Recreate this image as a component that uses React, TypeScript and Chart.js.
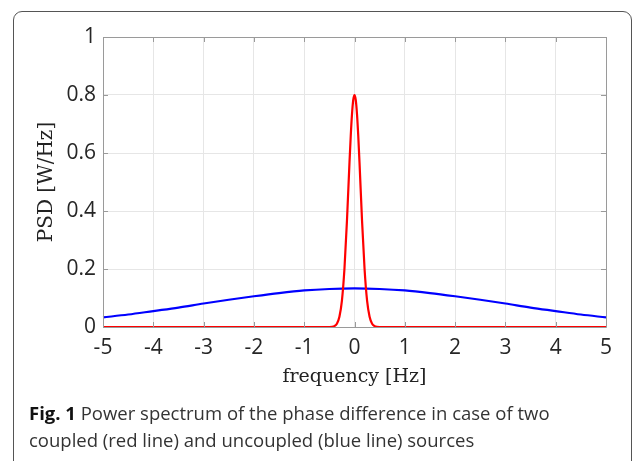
import React, { useEffect, useRef } from "react";
import { Chart, registerables } from "chart.js";

Chart.register(...registerables);

const blueFreq = [-5, -4.5, -4, -3.5, -3, -2.5, -2, -1.5, -1, -0.5, 0, 0.5, 1, 1.5, 2, 2.5, 3, 3.5, 4, 4.5, 5];
const bluePsd = [0.033, 0.043, 0.055, 0.067, 0.081, 0.094, 0.106, 0.117, 0.126, 0.131, 0.133, 0.131, 0.126, 0.117, 0.106, 0.094, 0.081, 0.067, 0.055, 0.043, 0.033];

const redFreq = [-5, -0.5, -0.4, -0.35, -0.3, -0.25, -0.2, -0.15, -0.1, -0.075, -0.05, -0.025, 0, 0.025, 0.05, 0.075, 0.1, 0.15, 0.2, 0.25, 0.3, 0.35, 0.4, 0.5, 5];
const redPsd = [0, 0, 0.003, 0.011, 0.035, 0.091, 0.2, 0.366, 0.566, 0.658, 0.733, 0.783, 0.8, 0.783, 0.733, 0.658, 0.566, 0.366, 0.2, 0.091, 0.035, 0.011, 0.003, 0, 0];

const xTicks = [-5, -4, -3, -2, -1, 0, 1, 2, 3, 4, 5];
const yTicks = [0, 0.2, 0.4, 0.6, 0.8, 1];

const boxPlugin = {
  id: "boxPlugin",
  afterDatasetsDraw(chart: any) {
    const { ctx, chartArea: a, scales } = chart;
    ctx.save();
    ctx.strokeStyle = "#9a9a9a";
    ctx.lineWidth = 1;
    const t = 5;
    ctx.beginPath();
    xTicks.forEach((v) => {
      const x = Math.round(scales.x.getPixelForValue(v)) + 0.5;
      ctx.moveTo(x, a.bottom);
      ctx.lineTo(x, a.bottom - t);
      ctx.moveTo(x, a.top);
      ctx.lineTo(x, a.top + t);
    });
    yTicks.forEach((v) => {
      const y = Math.round(scales.y.getPixelForValue(v)) + 0.5;
      ctx.moveTo(a.left, y);
      ctx.lineTo(a.left + t, y);
      ctx.moveTo(a.right, y);
      ctx.lineTo(a.right - t, y);
    });
    ctx.stroke();
    ctx.beginPath();
    ctx.rect(Math.round(a.left) + 0.5, Math.round(a.top) + 0.5, Math.round(a.right - a.left), Math.round(a.bottom - a.top));
    ctx.stroke();
    ctx.restore();
  },
};

function App() {
  const ref = useRef<HTMLCanvasElement | null>(null);
  useEffect(() => {
    const canvas = ref.current;
    if (!canvas) return;
    const chart = new Chart(canvas, {
      type: "line",
      data: {
        datasets: [
          {
            label: "coupled",
            data: redFreq.map((f, i) => ({ x: f, y: redPsd[i] })),
            borderColor: "#ff0000",
            borderWidth: 2.2,
            pointRadius: 0,
            cubicInterpolationMode: "monotone",
            clip: 4,
            order: 0,
          } as any,
          {
            label: "uncoupled",
            data: blueFreq.map((f, i) => ({ x: f, y: bluePsd[i] })),
            borderColor: "#0000ff",
            borderWidth: 2.2,
            pointRadius: 0,
            cubicInterpolationMode: "monotone",
            clip: 4,
            order: 1,
          } as any,
        ],
      },
      options: {
        responsive: false,
        animation: false,
        events: [],
        layout: { padding: { top: 37, right: 29, left: 0, bottom: 0 } },
        plugins: { legend: { display: false }, tooltip: { enabled: false } },
        scales: {
          x: {
            type: "linear",
            min: -5,
            max: 5,
            afterBuildTicks: (s: any) => {
              s.ticks = xTicks.map((v) => ({ value: v }));
            },
            afterFit: (s: any) => {
              s.height = 73;
            },
            grid: { color: "#e6e6e6", drawTicks: false },
            border: { display: false },
            ticks: {
              color: "#262626",
              font: { family: "Open Sans", size: 21 },
              padding: 8,
              maxRotation: 0,
              callback: (v: any) => String(v),
            },
            title: {
              display: true,
              text: "frequency [Hz]",
              color: "#222",
              font: { family: "DejaVu Serif", size: 19 },
              padding: { top: 0, bottom: 12 },
            },
          },
          y: {
            type: "linear",
            min: 0,
            max: 1,
            afterBuildTicks: (s: any) => {
              s.ticks = yTicks.map((v) => ({ value: v }));
            },
            afterFit: (s: any) => {
              s.width = 103;
            },
            grid: { color: "#e6e6e6", drawTicks: false },
            border: { display: false },
            ticks: {
              color: "#262626",
              font: { family: "Open Sans", size: 21 },
              padding: 7,
              callback: (v: any) => String(Math.round(v * 10) / 10),
            },
            title: {
              display: true,
              text: "PSD [W/Hz]",
              color: "#222",
              font: { family: "DejaVu Serif", size: 20 },
              padding: { top: 35, bottom: 0 },
            },
          },
        },
      },
      plugins: [boxPlugin],
    });
    return () => chart.destroy();
  }, []);

  return (
    <div style={{ position: "fixed", left: 0, top: 0, width: 635, height: 461, overflow: "hidden", background: "#fff" }}>
      <div
        style={{
          position: "absolute",
          left: 13,
          top: 11,
          width: 640 - 13 - 8,
          height: 520,
          border: "1.5px solid #555",
          borderRadius: 9,
          boxSizing: "border-box",
        }}
      />
      <canvas ref={ref} width={635} height={400} style={{ position: "absolute", left: 0, top: 0 }} />
      <div
        style={{
          position: "absolute",
          left: 29,
          top: 399,
          fontFamily: "Open Sans",
          fontSize: 18.5,
          lineHeight: "27px",
          color: "#333",
          whiteSpace: "nowrap",
        }}
      >
        <span style={{ fontWeight: 700, color: "#111" }}>Fig. 1</span> Power spectrum of the phase difference in case of two
        <br />
        coupled (red line) and uncoupled (blue line) sources
      </div>
    </div>
  );
}

export default App;
